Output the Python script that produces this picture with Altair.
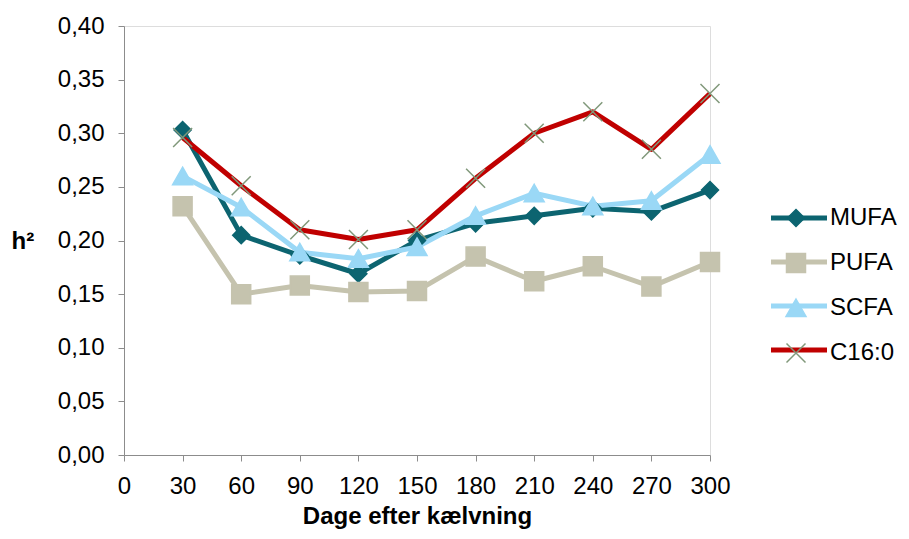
import altair as alt
import pandas as pd

days = [30, 60, 90, 120, 150, 180, 210, 240, 270, 300]
series_names = ["MUFA", "PUFA", "SCFA", "C16:0"]
mufa = [0.303, 0.205, 0.186, 0.169, 0.200, 0.216, 0.223, 0.230, 0.227, 0.247]
pufa = [0.232, 0.150, 0.158, 0.152, 0.153, 0.185, 0.162, 0.176, 0.157, 0.180]
scfa = [0.260, 0.231, 0.189, 0.183, 0.194, 0.223, 0.244, 0.232, 0.237, 0.280]
c160 = [0.296, 0.251, 0.210, 0.201, 0.210, 0.258, 0.300, 0.320, 0.285, 0.337]

x_ticks = [0, 30, 60, 90, 120, 150, 180, 210, 240, 270, 300]
y_ticks = [0.0, 0.05, 0.10, 0.15, 0.20, 0.25, 0.30, 0.35, 0.40]

line_colors = ["#0c6470", "#c5c3ae", "#9ad8f6", "#c00000"]
marker_fill = ["#0c6470", "#c5c3ae", "#9ad8f6", "#80987a"]
marker_shapes = [
    "M0,-0.85L0.85,0L0,0.85L-0.85,0Z",
    "M-0.95,-0.95H0.95V0.95H-0.95Z",
    "M0,-0.9L1,0.85L-1,0.85Z",
    "M-0.95,-0.95L0.95,0.95M-0.95,0.95L0.95,-0.95",
]

rows = []
for name, vals in zip(series_names, [mufa, pufa, scfa, c160]):
    for d, v in zip(days, vals):
        rows.append({"dag": d, "h2": v, "serie": name})
df = pd.DataFrame(rows)

FONT = "Liberation Sans"
FS = 24

x_enc = alt.X(
    "dag:Q",
    scale=alt.Scale(domain=[0, 300], nice=False),
    axis=alt.Axis(
        values=x_ticks,
        title="Dage efter kælvning",
        titleFontWeight="bold",
        titleFontSize=FS,
        titleFont=FONT,
        titleColor="#000000",
        titleY=68,
        titleBaseline="alphabetic",
        labelFontSize=FS,
        labelFont=FONT,
        labelColor="#000000",
        labelPadding=13,
        tickSize=6,
        grid=False,
        domainColor="#8c8c8c",
        tickColor="#8c8c8c",
        labelFlush=False,
        labelOverlap=False,
    ),
)
y_enc = alt.Y(
    "h2:Q",
    scale=alt.Scale(domain=[0, 0.4], nice=False),
    axis=alt.Axis(
        values=y_ticks,
        labelExpr="replace(format(datum.value, '.2f'), '.', ',')",
        title="h²",
        titleAngle=0,
        titleFontWeight="bold",
        titleFontSize=FS,
        titleFont=FONT,
        titleColor="#000000",
        titleAlign="left",
        titleBaseline="alphabetic",
        titleX=-113,
        titleY=222,
        labelFontSize=FS,
        labelFont=FONT,
        labelColor="#000000",
        labelPadding=14,
        tickSize=6,
        grid=False,
        domainColor="#8c8c8c",
        tickColor="#8c8c8c",
        labelOverlap=False,
    ),
)

lines = alt.Chart(df).mark_line(strokeWidth=5, strokeJoin="round").encode(
    x=x_enc,
    y=y_enc,
    color=alt.Color(
        "serie:N",
        scale=alt.Scale(domain=series_names, range=line_colors),
        sort=series_names,
        legend=alt.Legend(
            title=None,
            orient="none",
            legendX=663,
            legendY=180,
            symbolType="M-4,0H4",
            symbolSize=196,
            symbolStrokeWidth=5,
            labelExpr="''",
            labelFontSize=FS,
            labelFont=FONT,
            rowPadding=20,
            padding=0,
        ),
    ),
)

legend_pts = alt.Legend(
    title=None,
    orient="none",
    legendX=660,
    legendY=180,
    symbolSize=400,
    symbolStrokeWidth=1.5,
    labelFontSize=FS,
    labelFont=FONT,
    labelColor="#000000",
    labelOffset=22,
    rowPadding=20,
    padding=0,
)

points = alt.Chart(df).mark_point(size=400, strokeWidth=1.5, opacity=1, fillOpacity=1).encode(
    x="dag:Q",
    y="h2:Q",
    fill=alt.Fill("serie:N", scale=alt.Scale(domain=series_names, range=marker_fill), sort=series_names, legend=legend_pts),
    stroke=alt.Stroke("serie:N", scale=alt.Scale(domain=series_names, range=marker_fill), sort=series_names, legend=legend_pts),
    shape=alt.Shape("serie:N", scale=alt.Scale(domain=series_names, range=marker_shapes), sort=series_names, legend=legend_pts),
)

chart = (
    alt.layer(lines, points)
    .resolve_scale(color="independent", fill="independent", stroke="independent", shape="independent")
    .properties(
        width=586,
        height=429,
        autosize=alt.AutoSizeParams(type="none"),
        padding={"left": 116, "top": 18, "right": 191, "bottom": 76},
    )
    .configure_view(stroke=None)
    .configure(font=FONT)
)

chart.save("out.html", embed_options={"renderer": "svg", "actions": False})
